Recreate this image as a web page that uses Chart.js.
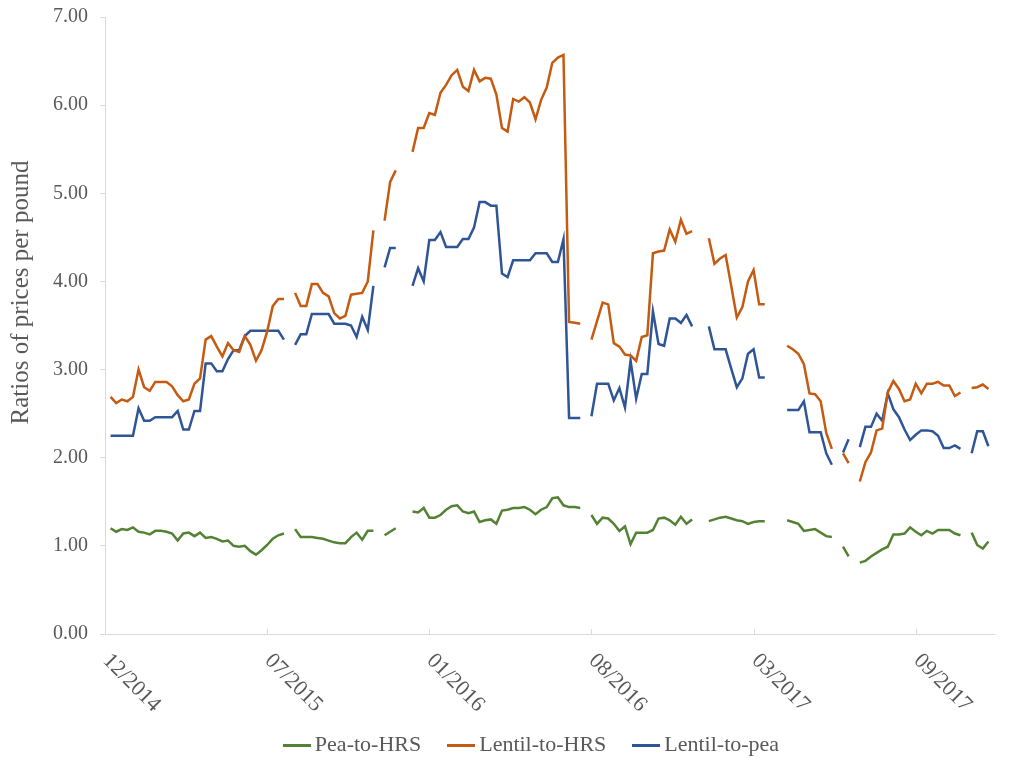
<!DOCTYPE html>
<html>
<head>
<meta charset="utf-8">
<script src="https://cdn.jsdelivr.net/npm/chart.js@4.4.0/dist/chart.umd.min.js"></script>
<style>
  html, body { margin: 0; padding: 0; background: #ffffff; }
  #wrap { width: 1024px; height: 766px; }
</style>
</head>
<body>
<div id="wrap"><canvas id="c" width="1024" height="766"></canvas></div>
<script>
// ---- Data (weekly observations, null = no quote that week) ----
const tickLabels = ['12/2014', '07/2015', '01/2016', '08/2016', '03/2017', '09/2017'];
const tickEvery = 29;      // one date label every 29 weekly categories
const weekCount = 160;
const yTitle = 'Ratios of prices per pound';

const peaToHRS = [
  null, 1.20, 1.16, 1.19, 1.18, 1.21, 1.16, 1.15, 1.13, 1.17,
  1.17, 1.16, 1.14, 1.06, 1.14, 1.15, 1.11, 1.15, 1.09, 1.10,
  1.08, 1.05, 1.06, 1.00, 0.99, 1.00, 0.94, 0.90, 0.95, 1.01,
  1.08, 1.12, 1.14, null, 1.19, 1.10, 1.10, 1.10, 1.09, 1.08,
  1.06, 1.04, 1.03, 1.03, 1.10, 1.15, 1.07, 1.17, 1.17, null,
  1.12, 1.16, 1.20, null, null, 1.39, 1.38, 1.43, 1.32, 1.32,
  1.35, 1.41, 1.45, 1.46, 1.39, 1.37, 1.39, 1.27, 1.29, 1.30,
  1.25, 1.40, 1.41, 1.43, 1.43, 1.44, 1.41, 1.36, 1.41, 1.44,
  1.54, 1.55, 1.46, 1.44, 1.44, 1.43, null, 1.35, 1.25, 1.32,
  1.31, 1.25, 1.17, 1.22, 1.02, 1.15, 1.15, 1.15, 1.18, 1.31,
  1.32, 1.29, 1.24, 1.33, 1.25, 1.30, null, null, 1.28, 1.30,
  1.32, 1.33, 1.31, 1.29, 1.28, 1.25, 1.27, 1.28, 1.28, null,
  null, null, 1.29, 1.27, 1.25, 1.17, 1.18, 1.19, 1.15, 1.11,
  1.10, null, 0.99, 0.88, null, 0.81, 0.83, 0.88, 0.92, 0.96,
  0.99, 1.13, 1.13, 1.14, 1.21, 1.16, 1.12, 1.17, 1.14, 1.18,
  1.18, 1.18, 1.14, 1.12, null, 1.15, 1.01, 0.97, 1.05, null
];

const lentilToHRS = [
  null, 2.69, 2.62, 2.66, 2.64, 2.69, 3.00, 2.80, 2.76, 2.86,
  2.86, 2.86, 2.81, 2.71, 2.64, 2.66, 2.84, 2.90, 3.34, 3.38,
  3.26, 3.15, 3.30, 3.22, 3.20, 3.38, 3.28, 3.10, 3.22, 3.43,
  3.72, 3.80, 3.80, null, 3.87, 3.72, 3.72, 3.97, 3.97, 3.87,
  3.83, 3.64, 3.58, 3.61, 3.85, 3.86, 3.87, 4.00, 4.58, null,
  4.69, 5.13, 5.26, null, null, 5.47, 5.74, 5.74, 5.91, 5.89,
  6.14, 6.23, 6.34, 6.40, 6.21, 6.16, 6.40, 6.27, 6.31, 6.30,
  6.12, 5.74, 5.70, 6.07, 6.04, 6.09, 6.03, 5.84, 6.06, 6.20,
  6.48, 6.54, 6.57, 3.54, 3.53, 3.52, null, 3.34, 3.55, 3.76,
  3.74, 3.30, 3.26, 3.17, 3.16, 3.10, 3.37, 3.39, 4.32, 4.34,
  4.35, 4.59, 4.45, 4.70, 4.54, 4.57, null, null, 4.49, 4.20,
  4.26, 4.30, 3.95, 3.59, 3.71, 4.00, 4.13, 3.74, 3.74, null,
  null, null, 3.27, 3.23, 3.18, 3.06, 2.73, 2.72, 2.64, 2.28,
  2.10, null, 2.05, 1.94, null, 1.73, 1.95, 2.06, 2.31, 2.33,
  2.74, 2.87, 2.78, 2.64, 2.66, 2.84, 2.73, 2.84, 2.84, 2.86,
  2.82, 2.82, 2.70, 2.74, null, 2.79, 2.80, 2.83, 2.78, null
];

const lentilToPea = [
  null, 2.25, 2.25, 2.25, 2.25, 2.25, 2.56, 2.42, 2.42, 2.46,
  2.46, 2.46, 2.46, 2.53, 2.32, 2.32, 2.53, 2.53, 3.07, 3.07,
  2.98, 2.98, 3.12, 3.22, 3.22, 3.38, 3.44, 3.44, 3.44, 3.44,
  3.44, 3.44, 3.34, null, 3.28, 3.40, 3.40, 3.63, 3.63, 3.63,
  3.63, 3.52, 3.52, 3.52, 3.50, 3.37, 3.60, 3.45, 3.95, null,
  4.16, 4.38, 4.38, null, null, 3.95, 4.15, 4.00, 4.47, 4.47,
  4.56, 4.39, 4.39, 4.39, 4.48, 4.48, 4.61, 4.90, 4.90, 4.86,
  4.86, 4.09, 4.05, 4.24, 4.24, 4.24, 4.24, 4.32, 4.32, 4.32,
  4.22, 4.22, 4.48, 2.45, 2.45, 2.45, null, 2.47, 2.84, 2.84,
  2.84, 2.65, 2.79, 2.57, 3.10, 2.67, 2.95, 2.95, 3.66, 3.29,
  3.27, 3.58, 3.58, 3.53, 3.62, 3.49, null, null, 3.49, 3.23,
  3.23, 3.23, 3.01, 2.80, 2.90, 3.18, 3.23, 2.91, 2.91, null,
  null, null, 2.54, 2.54, 2.54, 2.64, 2.29, 2.29, 2.29, 2.05,
  1.92, null, 2.06, 2.21, null, 2.12, 2.35, 2.35, 2.50, 2.42,
  2.73, 2.55, 2.46, 2.32, 2.20, 2.26, 2.31, 2.31, 2.30, 2.25,
  2.11, 2.11, 2.14, 2.10, null, 2.05, 2.30, 2.30, 2.13, null
];

// category labels: a date label every tickEvery weeks, blank otherwise
const categories = [];
for (let i = 0; i < weekCount; i++) {
  categories.push(i % tickEvery === 0 && tickLabels[i / tickEvery] ? tickLabels[i / tickEvery] : '');
}

// ---- Styling ----
const FONT = "'Liberation Serif', 'Times New Roman', serif";
const TEXT = '#595959';
const AXIS = '#d9d9d9';
const GREEN = '#548235';
const ORANGE = '#c55a11';
const BLUE = '#2f5597';

// short line swatch used as the legend marker
function swatch(color) {
  const c = document.createElement('canvas');
  c.width = 28; c.height = 3;
  const g = c.getContext('2d');
  g.fillStyle = color;
  g.fillRect(0, 0, 28, 3);
  return c;
}

// Rotated (45° clockwise) date labels, inner x tick marks and the y-axis title
const decorations = {
  id: 'decorations',
  afterLayout(chart) {
    chart.legend.left -= 15;
    chart.legend.right -= 15;
  },
  afterDraw(chart) {
    const { ctx, chartArea } = chart;
    const xs = chart.scales.x;
    ctx.save();
    ctx.font = '22px ' + FONT;
    ctx.fillStyle = TEXT;
    ctx.strokeStyle = AXIS;
    ctx.lineWidth = 1;
    categories.forEach((lab, i) => {
      if (!lab) return;
      const px = Math.round(xs.getPixelForValue(i)) + 0.5;
      ctx.beginPath();
      ctx.moveTo(px, chartArea.bottom);
      ctx.lineTo(px, chartArea.bottom - 5);
      ctx.stroke();
      ctx.save();
      ctx.translate(px + 0.5, chartArea.bottom + 23.5);
      ctx.rotate(Math.PI / 4);
      ctx.textAlign = 'left';
      ctx.textBaseline = 'middle';
      ctx.fillText(lab, 0, 0);
      ctx.restore();
    });
    // y-axis title
    ctx.save();
    ctx.font = '25px ' + FONT;
    ctx.translate(21, 292.5);
    ctx.rotate(-Math.PI / 2);
    ctx.textAlign = 'center';
    ctx.textBaseline = 'middle';
    ctx.fillText(yTitle, 0, 0);
    ctx.restore();
    ctx.restore();
  }
};

const mk = (label, data, color) => ({
  label, data,
  borderColor: color, backgroundColor: color,
  borderWidth: 2.5, pointRadius: 0, pointHoverRadius: 0,
  pointStyle: swatch(color),
  tension: 0, spanGaps: false, fill: false
});

new Chart(document.getElementById('c'), {
  type: 'line',
  data: {
    labels: categories,
    datasets: [
      mk('Pea-to-HRS', peaToHRS, GREEN),
      mk('Lentil-to-HRS', lentilToHRS, ORANGE),
      mk('Lentil-to-pea', lentilToPea, BLUE)
    ]
  },
  options: {
    responsive: false,
    animation: false,
    devicePixelRatio: 1,
    layout: { padding: { top: 17, right: 30, left: 0, bottom: 0 } },
    plugins: {
      legend: {
        position: 'bottom',
        fullSize: false,
        labels: {
          usePointStyle: true,
          pointStyleWidth: 14,
          color: TEXT,
          font: { family: FONT, size: 22 },
          padding: 33
        }
      },
      tooltip: { enabled: false }
    },
    scales: {
      x: {
        type: 'category',
        offset: false,
        ticks: { display: false },
        grid: { display: false },
        border: { display: true, color: AXIS, width: 1 },
        afterFit: (s) => { s.height = 67; s.paddingTop = 0; s.paddingBottom = 0; }
      },
      y: {
        min: 0, max: 7,
        ticks: {
          stepSize: 1,
          color: TEXT,
          font: { family: FONT, size: 20 },
          padding: 12,
          callback: (v) => Number(v).toFixed(2)
        },
        grid: { drawOnChartArea: false, drawTicks: true, tickLength: 5, color: AXIS },
        border: { display: true, color: AXIS, width: 1 },
        title: { display: false },
        afterFit: (s) => { s.width = 105; s.paddingTop = 0; s.paddingBottom = 0; }
      }
    }
  },
  plugins: [decorations]
});
</script>
</body>
</html>
